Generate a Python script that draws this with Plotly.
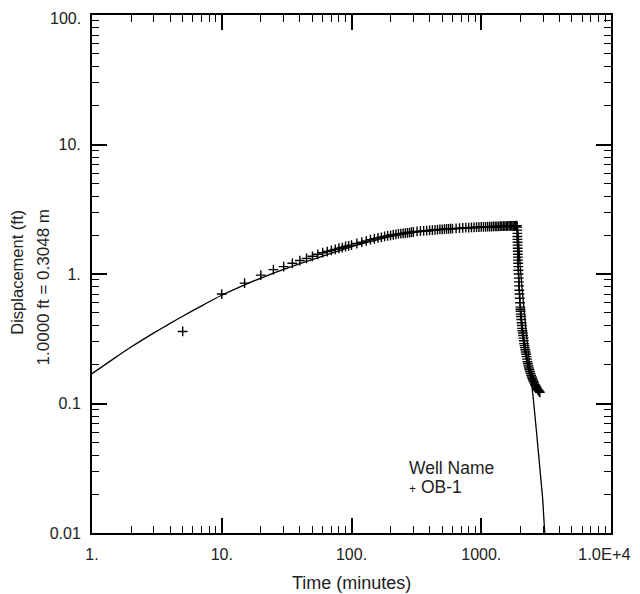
import plotly.graph_objects as go

# ---- data ----
pump_t = [5, 10, 15, 20, 25, 30, 35, 40, 45, 50, 55, 60, 65, 70, 75, 80, 85, 90, 95, 100,
          110, 120, 130, 140, 150, 160, 170, 180, 190, 200, 210, 220, 230, 240, 250, 260,
          270, 280, 290, 300, 320, 340, 360, 380, 400, 420, 440, 460, 480, 500, 520, 540,
          560, 580, 600, 640, 680, 720, 760, 800, 840, 880, 920, 960, 1000, 1040, 1080,
          1120, 1160, 1200, 1240, 1280, 1320, 1360, 1400, 1440, 1480, 1520, 1560, 1600,
          1640, 1680, 1720, 1760, 1800, 1840, 1880]
pump_s = [0.36, 0.70, 0.85, 0.98, 1.08, 1.14, 1.21, 1.27, 1.32, 1.37, 1.42, 1.46, 1.49,
          1.52, 1.55, 1.58, 1.60, 1.63, 1.65, 1.67, 1.72, 1.76, 1.80, 1.84, 1.87, 1.90,
          1.92, 1.95, 1.97, 1.99, 2.01, 2.02, 2.04, 2.05, 2.06, 2.07, 2.08, 2.09, 2.10,
          2.11, 2.13, 2.14, 2.15, 2.16, 2.17, 2.18, 2.19, 2.20, 2.21, 2.21, 2.22, 2.23,
          2.23, 2.24, 2.24, 2.25, 2.26, 2.27, 2.28, 2.28, 2.29, 2.29, 2.30, 2.30, 2.31,
          2.31, 2.31, 2.32, 2.32, 2.32, 2.33, 2.33, 2.33, 2.33, 2.34, 2.34, 2.34, 2.34,
          2.34, 2.35, 2.35, 2.35, 2.35, 2.35, 2.35, 2.36, 2.36]

rec_t = [1893, 1895, 1897, 1899, 1901, 1903, 1905, 1908, 1911, 1914, 1917, 1920, 1924,
         1928, 1933, 1938, 1944, 1950, 1957, 1964, 1972, 1981, 1990, 2000, 2005, 2010,
         2017, 2025, 2035, 2045, 2055, 2065, 2077, 2090, 2102, 2115, 2127, 2140, 2155,
         2170, 2185, 2200, 2218, 2235, 2252, 2270, 2290, 2310, 2330, 2350, 2375, 2400,
         2425, 2450, 2475, 2500, 2530, 2560, 2590, 2620, 2655, 2690, 2725, 2760, 2795,
         2830]
rec_s = [2.30, 2.18, 2.06, 1.95, 1.85, 1.76, 1.67, 1.58, 1.50, 1.42, 1.35, 1.28, 1.21,
         1.14, 1.07, 1.00, 0.93, 0.87, 0.81, 0.75, 0.70, 0.65, 0.60, 0.555, 0.535, 0.515,
         0.49, 0.47, 0.445, 0.42, 0.40, 0.38, 0.365, 0.35, 0.335, 0.32, 0.305, 0.29,
         0.28, 0.27, 0.26, 0.25, 0.24, 0.23, 0.22, 0.21, 0.203, 0.195, 0.188, 0.182,
         0.176, 0.170, 0.165, 0.160, 0.156, 0.152, 0.148, 0.144, 0.140, 0.137, 0.134,
         0.131, 0.128, 0.126, 0.124, 0.122]

fit_t = [1, 1.5, 2, 3, 4, 5, 7, 10, 15, 20, 30, 45, 60, 80, 110, 150, 200, 300, 500,
         700, 1000, 1500, 1890, 1925, 1995, 2070, 2146, 2225, 2307, 2392, 2482, 2573,
         2715, 2866, 2971, 3090, 3200]
fit_s = [0.17, 0.225, 0.273, 0.351, 0.416, 0.472, 0.568, 0.685, 0.824, 0.930, 1.085,
         1.25, 1.374, 1.511, 1.668, 1.81, 1.94, 2.09, 2.20, 2.24, 2.28, 2.32, 2.34, 2.0,
         1.17, 0.75, 0.51, 0.35, 0.25, 0.178, 0.125, 0.0875, 0.0496, 0.0275, 0.0186,
         0.010, 0.0075]

x_major = [1, 10, 100, 1000, 10000]
x_labels = ["1.", "10.", "100.", "1000.", ""]
x_last_label = "1.0E+4"
y_major = [0.01, 0.1, 1, 10, 100]
y_labels = ["0.01", "0.1", "1.", "10.", ""]
y_top_label = "100."

well_title = "Well Name"
well_name = "OB-1"

# ---- figure ----
FONT = "Liberation Sans, Arial, Helvetica, sans-serif"
TXT = "#222"
fig = go.Figure()

fig.add_trace(go.Scatter(x=fit_t, y=fit_s, mode="lines", line_shape="spline",
                         line=dict(color="black", width=1.3, smoothing=0.6),
                         showlegend=False, hoverinfo="skip"))
fig.add_trace(go.Scatter(x=pump_t + rec_t, y=pump_s + rec_s, mode="markers",
                         marker=dict(symbol="cross-thin", size=7,
                                     line=dict(color="black", width=1.4)),
                         name=well_name, showlegend=False))

minor_x = [m * 10 ** d for d in range(0, 4) for m in range(2, 10)]
minor_y = [m * 10 ** d for d in range(-2, 2) for m in range(2, 10)]

axis_common = dict(showline=True, linecolor="black", linewidth=2, mirror="ticks",
                   ticks="inside", ticklen=15, tickwidth=1.6, tickcolor="black",
                   showgrid=False, zeroline=False, automargin=False,
                   tickfont=dict(family=FONT, size=16, color=TXT))

fig.update_xaxes(type="log", range=[0, 4], tickmode="array", tickvals=x_major,
                 ticktext=x_labels,
                 minor=dict(tickmode="array", tickvals=minor_x, ticks="inside",
                            ticklen=7, tickwidth=1.4, tickcolor="black", showgrid=False),
                 ticklabelstandoff=6,
                 **axis_common)
fig.update_yaxes(type="log", range=[-2, 2], tickmode="array", tickvals=y_major,
                 ticktext=y_labels,
                 minor=dict(tickmode="array", tickvals=minor_y, ticks="inside",
                            ticklen=7, tickwidth=1.4, tickcolor="black", showgrid=False),
                 ticklabelstandoff=6,
                 **axis_common)

# edge tick labels placed as annotations so they are not dropped at the figure edge
fig.add_annotation(text=x_last_label, xref="paper", yref="paper", x=1.0, y=-0.041,
                   xanchor="right", yanchor="middle", xshift=22, showarrow=False,
                   font=dict(family=FONT, size=16.5, color=TXT))
fig.add_annotation(text=y_top_label, xref="paper", yref="paper", x=0.0, y=1.0,
                   xanchor="right", yanchor="middle", xshift=-10, yshift=-3,
                   borderpad=0, showarrow=False,
                   font=dict(family=FONT, size=16, color=TXT))

# axis titles
fig.add_annotation(text="Time (minutes)", xref="paper", yref="paper", x=0.5, y=-0.097,
                   xanchor="center", yanchor="middle", showarrow=False,
                   font=dict(family=FONT, size=18, color=TXT))
fig.add_annotation(text="Displacement (ft)", xref="paper", yref="paper",
                   x=-0.1435, y=0.628, xanchor="center", yanchor="top",
                   textangle=-90, showarrow=False,
                   font=dict(family=FONT, size=16.5, color=TXT))
fig.add_annotation(text="1.0000 ft = 0.3048 m", xref="paper", yref="paper",
                   x=-0.093, y=0.628, xanchor="center", yanchor="top",
                   textangle=-90, showarrow=False,
                   font=dict(family=FONT, size=17, color=TXT))

# legend-like text
fig.add_annotation(text=well_title, xref="paper", yref="paper", x=0.607, y=0.126,
                   xanchor="left", yanchor="middle", showarrow=False,
                   font=dict(family=FONT, size=17.5, color=TXT))
fig.add_annotation(text="<span style='font-size:12px'>+</span> " + well_name,
                   xref="paper", yref="paper", x=0.607, y=0.088,
                   xanchor="left", yanchor="middle", showarrow=False,
                   font=dict(family=FONT, size=17.5, color=TXT))

# page body has an 8px default margin, so the figure is 8px smaller than the window
fig.update_layout(width=632, height=586,
                  margin=dict(l=84, r=29, t=7, b=61),
                  paper_bgcolor="white", plot_bgcolor="white",
                  showlegend=False)

fig.write_html("out.html")
